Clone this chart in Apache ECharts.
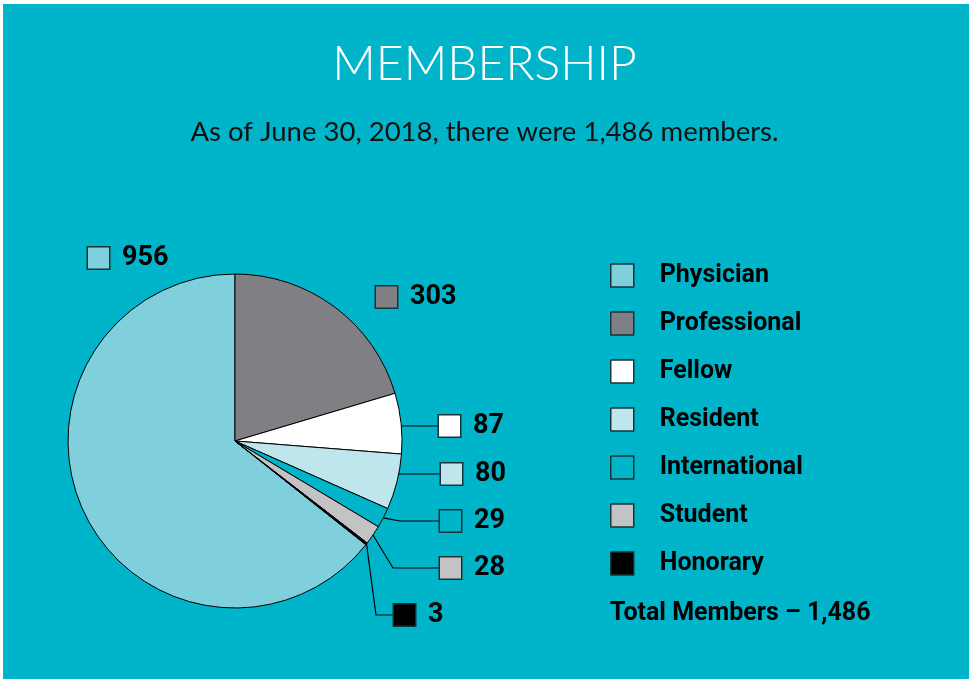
<!DOCTYPE html>
<html>
<head>
<meta charset="utf-8">
<title>Membership</title>
<script src="https://cdn.jsdelivr.net/npm/echarts@6/dist/echarts.min.js"></script>
<style>
  html, body { margin: 0; padding: 0; background: #fff; }
  #chart { width: 969px; height: 679px; }
</style>
</head>
<body>
<div id="chart"></div>
<script>
// data
var categories = ['Physician', 'Professional', 'Fellow', 'Resident', 'International', 'Student', 'Honorary'];
var members = [956, 303, 87, 80, 29, 28, 3];
var sliceColors = ['#7fcfdc', '#808084', '#ffffff', '#bfe6ec', '#00b5ca', '#c3c3c5', '#000000'];
var totalMembers = 1486;

// where each value label sits (box left edge, middle y) and how its leader line bends
var labelSlots = [
    { x: 88, y: 258, line: 'none' },
    { x: 376, y: 297, line: 'none' },
    { x: 439, y: 426, line: 'straight' },
    { x: 441, y: 474, line: 'straight' },
    { x: 440, y: 521, line: 'elbow', bendX: 400 },
    { x: 440, y: 568, line: 'elbow', bendX: 393 },
    { x: 394, y: 615, line: 'elbow', bendX: 376 }
];

var bg = '#00b5ca';
var boldFont = "Roboto, 'DejaVu Sans Condensed', sans-serif";
var pieCenter = [235, 441];
var pieRadius = 167;

var rich = {
    val: { fontSize: 27, fontWeight: 'bold', fontFamily: boldFont, color: '#000', padding: [0, 0, 0, 13] }
};
categories.forEach(function (c, i) {
    rich['box' + i] = {
        width: 21, height: 21,
        backgroundColor: sliceColors[i],
        borderColor: '#15343a', borderWidth: 1.5
    };
});

var pieData = categories.map(function (c, i) {
    return {
        name: c,
        value: members[i],
        itemStyle: { color: sliceColors[i] },
        labelLine: { show: labelSlots[i].line !== 'none' }
    };
});

var myChart = echarts.init(document.getElementById('chart'));

var option = {
    backgroundColor: '#fff',
    graphic: [{
        type: 'rect',
        left: 3, top: 4, z: -10,
        shape: { width: 966, height: 675 },
        style: { fill: bg }
    }],
    title: [{
        text: 'MEMBERSHIP',
        left: 'center', top: 36,
        textStyle: { color: '#fff', fontSize: 48, fontWeight: 300, fontFamily: 'Lato, sans-serif' }
    }, {
        text: 'As of June 30, 2018, there were 1,486 members.',
        left: 'center', top: 113,
        textStyle: { color: '#111', fontSize: 27.5, fontWeight: 'normal', fontFamily: 'Lato, sans-serif' }
    }, {
        text: 'Total Members \u2013 ' + totalMembers.toLocaleString('en-US'),
        left: 605, top: 596,
        textStyle: { color: '#000', fontSize: 25, fontWeight: 'bold', fontFamily: boldFont }
    }],
    legend: {
        orient: 'vertical',
        left: 610, top: 263,
        padding: 0,
        data: categories,
        icon: 'rect',
        itemWidth: 23, itemHeight: 23,
        itemGap: 23,
        selectedMode: false,
        itemStyle: { borderColor: '#15343a', borderWidth: 1.5 },
        textStyle: {
            fontSize: 25, lineHeight: 23, fontWeight: 'bold', fontFamily: boldFont,
            color: '#000', padding: [0, 0, 0, 21]
        }
    },
    series: [{
        type: 'pie',
        center: pieCenter,
        radius: pieRadius,
        startAngle: 90 + 360 * members[0] / totalMembers,
        clockwise: true,
        avoidLabelOverlap: false,
        silent: true,
        itemStyle: { borderColor: '#000', borderWidth: 1 },
        label: {
            show: true,
            position: 'outside',
            formatter: function (p) {
                return '{box' + p.dataIndex + '|}{val|' + p.value + '}';
            },
            rich: rich
        },
        labelLine: { show: true, length: 10, length2: 10, lineStyle: { color: '#000', width: 1.2 } },
        labelLayout: function (p) {
            var slot = labelSlots[p.dataIndex];
            var res = { x: slot.x, y: slot.y, align: 'left', verticalAlign: 'middle', hideOverlap: false };
            if (slot.line === 'straight') {
                var dy = slot.y - pieCenter[1];
                var sx = pieCenter[0] + Math.sqrt(pieRadius * pieRadius - dy * dy);
                res.labelLinePoints = [[sx, slot.y], [sx, slot.y], [slot.x, slot.y]];
            } else if (slot.line === 'elbow' && p.labelLinePoints) {
                var s = p.labelLinePoints[0];
                res.labelLinePoints = [[s[0], s[1]], [slot.bendX, slot.y], [slot.x, slot.y]];
            }
            return res;
        },
        data: pieData
    }]
};

myChart.setOption(option);
</script>
</body>
</html>
